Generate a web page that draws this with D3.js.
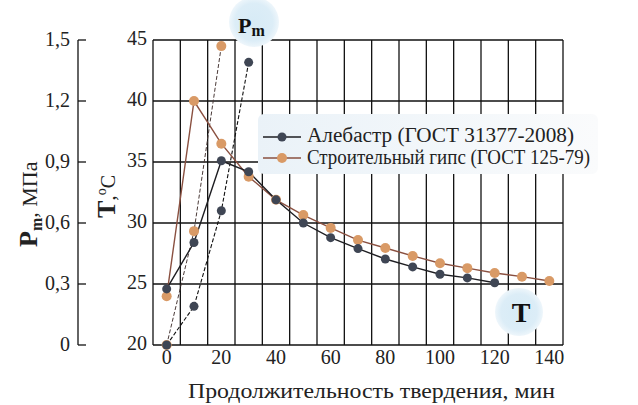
<!DOCTYPE html>
<html><head>
<script src="https://cdn.jsdelivr.net/npm/d3@7"></script>
</head>
<body style="margin:0;background:#fff"><svg id="c" width="638" height="405" style="display:block"></svg>
<script>
// ---- data ----
const timeT = [0,10,20,30,40,50,60,70,80,90,100,110,120,130,140];
const alabasterT = [24.6,28.4,35.1,34.2,31.9,30.0,28.8,27.9,27.05,26.4,25.8,25.5,25.1];
const gypsumT = [24.0,40.0,36.5,33.8,31.9,30.65,29.6,28.6,27.95,27.3,26.7,26.3,25.9,25.6,25.25];
const timePm = [0,10,20,30];
const alabasterPm = [0,0.19,0.66,1.39];
const gypsumPm = [0,0.56,1.47];
const xTicks = [0,20,40,60,80,100,120,140];
const tTicks = [20,25,30,35,40,45];
const pmTicks = [0,0.3,0.6,0.9,1.2,1.5];
const legendLabels = ["Алебастр (ГОСТ 31377-2008)","Строительный гипс (ГОСТ 125-79)"];
const xTitle = "Продолжительность твердения, мин";

const FONT = "Liberation Serif";
const svg = d3.select("#c");
svg.append("rect").attr("width",638).attr("height",405).attr("fill","#fff");
const x = d3.scaleLinear().domain([-5,145]).range([153,563]);
const yT = d3.scaleLinear().domain([20,45]).range([345,40]);
const yP = d3.scaleLinear().domain([0,1.5]).range([345,40]);

const defs = svg.append("defs");
const rg = defs.append("radialGradient").attr("id","bub");
rg.append("stop").attr("offset","0%").attr("stop-color","#d7ebf6");
rg.append("stop").attr("offset","75%").attr("stop-color","#dcedf7");
rg.append("stop").attr("offset","100%").attr("stop-color","#eef6fb");

// grid
const grid = svg.append("g").attr("stroke","#111").attr("stroke-width",1.3).attr("fill","none");
d3.range(-5,146,10).forEach(v=>grid.append("line").attr("x1",x(v)).attr("x2",x(v)).attr("y1",yT(45)).attr("y2",yT(20)));
tTicks.forEach(v=>grid.append("line").attr("x1",x(-5)).attr("x2",x(145)).attr("y1",yT(v)).attr("y2",yT(v)));

// legend background
const lg = defs.append("linearGradient").attr("id","lgb").attr("x1","0").attr("x2","1");
lg.append("stop").attr("offset","0%").attr("stop-color","#eaf2f8");
lg.append("stop").attr("offset","100%").attr("stop-color","#fafbfc");
svg.append("rect").attr("x",258).attr("y",114).attr("width",340).attr("height",60).attr("rx",6).attr("fill","url(#lgb)");

// bubbles
svg.append("circle").attr("cx",254).attr("cy",22).attr("r",25).attr("fill","url(#bub)");
svg.append("circle").attr("cx",519).attr("cy",312).attr("r",24).attr("fill","url(#bub)");

// Pm axis
const pmAx = svg.append("g").attr("stroke","#111").attr("stroke-width",1.3);
pmAx.append("line").attr("x1",78).attr("x2",78).attr("y1",yP(1.5)).attr("y2",yP(0));
pmTicks.forEach(v=>pmAx.append("line").attr("x1",78).attr("x2",86).attr("y1",yP(v)).attr("y2",yP(v)));

const txt = svg.append("g").attr("fill","#222");
const T = (sel)=>sel.append("text").attr("font-family",FONT).attr("font-size",20);
pmTicks.forEach(v=>T(txt).attr("x",70).attr("y",yP(v)+6).attr("text-anchor","end").text(String(v).replace(".",",")));
tTicks.forEach(v=>T(txt).attr("x",147).attr("y",yT(v)+5).attr("text-anchor","end").text(v));
xTicks.forEach(v=>T(txt).attr("x",x(v)).attr("y",364).attr("text-anchor","middle").text(v));
T(txt).attr("x",188).attr("y",398).attr("textLength",367).attr("lengthAdjust","spacingAndGlyphs").text(xTitle);

// y titles
const t1 = T(svg).attr("transform","translate(37,247) rotate(-90)").attr("fill","#222");
t1.append("tspan").attr("font-weight","bold").attr("font-size",26).text("P");
t1.append("tspan").attr("font-weight","bold").attr("font-size",16).attr("dy",5).text("m");
t1.append("tspan").attr("font-size",22).attr("dy",-5).text(", МПа");
const t2 = T(svg).attr("transform","translate(115,218) rotate(-90)").attr("fill","#222");
t2.append("tspan").attr("font-weight","bold").attr("font-size",26).text("T");
t2.append("tspan").attr("font-size",22).text(",");
t2.append("tspan").attr("font-size",14).attr("dy",-9).text("o");
t2.append("tspan").attr("font-size",20).attr("dy",9).text("C");

// series
const darkLine="#1e1e22", brownLine="#8a5040", darkPt="#3f4654", orangePt="#d99a66";
const lineT = (arr)=>d3.line().x((d,i)=>x(timeT[i])).y(d=>yT(d))(arr);
const lineP = (arr)=>d3.line().x((d,i)=>x(timePm[i])).y(d=>yP(d))(arr);
svg.append("path").attr("d",lineP(gypsumPm)).attr("fill","none").attr("stroke","#4a3a38").attr("stroke-width",1).attr("stroke-dasharray","4,2");
svg.append("path").attr("d",lineP(alabasterPm)).attr("fill","none").attr("stroke","#111").attr("stroke-width",1.1).attr("stroke-dasharray","4,2");
svg.append("path").attr("d",lineT(gypsumT)).attr("fill","none").attr("stroke",brownLine).attr("stroke-width",1.4);
svg.append("path").attr("d",lineT(alabasterT)).attr("fill","none").attr("stroke",darkLine).attr("stroke-width",1.4);

const pts = svg.append("g");
gypsumT.forEach((d,i)=>pts.append("circle").attr("cx",x(timeT[i])).attr("cy",yT(d)).attr("r",5).attr("fill",orangePt));
gypsumPm.forEach((d,i)=>pts.append("circle").attr("cx",x(timePm[i])).attr("cy",yP(d)).attr("r",5).attr("fill",orangePt));
alabasterT.forEach((d,i)=>pts.append("circle").attr("cx",x(timeT[i])).attr("cy",yT(d)).attr("r",4.5).attr("fill",darkPt));
alabasterPm.forEach((d,i)=>pts.append("circle").attr("cx",x(timePm[i])).attr("cy",yP(d)).attr("r",4.5).attr("fill",darkPt));

// legend
[[darkLine,darkPt,137,142],[brownLine,orangePt,158,164]].forEach((c,i)=>{
  svg.append("line").attr("x1",263).attr("x2",301).attr("y1",c[2]).attr("y2",c[2]).attr("stroke",c[0]).attr("stroke-width",1.4);
  svg.append("circle").attr("cx",282).attr("cy",c[2]).attr("r",i?5:4.5).attr("fill",c[1]);
  T(svg).attr("x",307).attr("y",c[3]).attr("fill","#222")
    .attr("textLength",i?283:267).attr("lengthAdjust","spacingAndGlyphs").text(legendLabels[i]);
});

// bubble labels
const pm = T(svg).attr("x",238).attr("y",33).attr("fill","#111").attr("font-weight","bold");
pm.append("tspan").attr("font-size",22).text("P");
pm.append("tspan").attr("font-size",16).attr("dy",3).text("m");
T(svg).attr("x",521).attr("y",322).attr("text-anchor","middle").attr("font-weight","bold").attr("font-size",28).attr("fill","#111").text("T");
</script></body></html>
